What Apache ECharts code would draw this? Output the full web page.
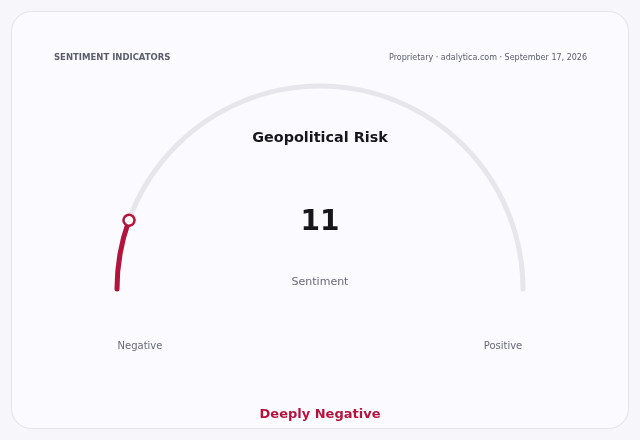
<!DOCTYPE html>
<html>
<head>
<meta charset="utf-8">
<script src="https://cdn.jsdelivr.net/npm/echarts@6/dist/echarts.min.js"></script>
<style>
  html, body { margin: 0; padding: 0; background: #f7f7fb; }
  #chart { width: 640px; height: 440px; }
</style>
</head>
<body>
<div id="chart"></div>
<script>
// data
const indicatorName = 'Geopolitical Risk';
const seriesName = 'Sentiment';
const sentimentValue = [11];
const scaleRange = [0, 100];
const endLabels = ['Negative', 'Positive'];
const verdict = 'Deeply Negative';
const headerLeft = 'SENTIMENT INDICATORS';
const headerRight = 'Proprietary · adalytica.com · September 17, 2026';

const RED = '#b3143e';
const FONT = 'DejaVu Sans';
const CENTER = [320, 289];
const RADIUS = 205.5;

const chart = echarts.init(document.getElementById('chart'));

const gaugeBase = {
  type: 'gauge',
  center: CENTER,
  radius: RADIUS,
  startAngle: 180,
  endAngle: 0,
  min: scaleRange[0],
  max: scaleRange[1],
  axisTick: { show: false },
  splitLine: { show: false },
  axisLabel: { show: false },
  anchor: { show: false }
};

const option = {
  backgroundColor: '#f7f7fb',
  graphic: [
    {
      type: 'rect', z: -10,
      shape: { x: 11.5, y: 11.5, width: 617, height: 417, r: 20 },
      style: { fill: '#fafaff', stroke: '#e2e2ec', lineWidth: 1 }
    },
    {
      type: 'text', x: 54, y: 58,
      style: { text: headerLeft, font: 'bold 8.5px ' + FONT, fill: '#5c5c6c', textVerticalAlign: 'middle' }
    },
    {
      type: 'text', x: 587, y: 58,
      style: { text: headerRight, font: '8px ' + FONT, fill: '#5c5c6c', textAlign: 'right', textVerticalAlign: 'middle' }
    },
    {
      type: 'text', x: 320, y: 138,
      style: { text: indicatorName, font: 'bold 14.4px ' + FONT, fill: '#16161c', textAlign: 'center', textVerticalAlign: 'middle' }
    },
    {
      type: 'text', x: 140, y: 346,
      style: { text: endLabels[0], font: '10px ' + FONT, fill: '#6a6a78', textAlign: 'center', textVerticalAlign: 'middle' }
    },
    {
      type: 'text', x: 503, y: 346,
      style: { text: endLabels[1], font: '10px ' + FONT, fill: '#6a6a78', textAlign: 'center', textVerticalAlign: 'middle' }
    },
    {
      type: 'text', x: 320, y: 415,
      style: { text: verdict, font: 'bold 13px ' + FONT, fill: RED, textAlign: 'center', textVerticalAlign: 'middle' }
    }
  ],
  series: [
    Object.assign({}, gaugeBase, {
      axisLine: {
        roundCap: true,
        lineStyle: { width: 5, color: [[1, '#e6e6ec']] }
      },
      progress: {
        show: true,
        roundCap: true,
        width: 5,
        itemStyle: { color: RED }
      },
      pointer: { show: false },
      title: {
        offsetCenter: [0, -7],
        fontSize: 11,
        fontFamily: FONT,
        color: '#6a6a78'
      },
      detail: {
        offsetCenter: [0, -66],
        fontSize: 28,
        fontWeight: 'bold',
        fontFamily: FONT,
        color: '#16161c',
        formatter: '{value}'
      },
      data: [{ value: sentimentValue[0], name: seriesName }]
    }),
    // marker ring at the current value, drawn above the progress arc
    Object.assign({}, gaugeBase, {
      z: 5,
      axisLine: { show: false },
      progress: { show: false },
      pointer: {
        show: true,
        icon: 'circle',
        length: 11,
        width: 11,
        offsetCenter: [0, -197.5],
        itemStyle: { color: '#ffffff', borderColor: RED, borderWidth: 2.5 }
      },
      title: { show: false },
      detail: { show: false },
      data: [{ value: sentimentValue[0], name: seriesName }]
    })
  ]
};

chart.setOption(option);
</script>
</body>
</html>
